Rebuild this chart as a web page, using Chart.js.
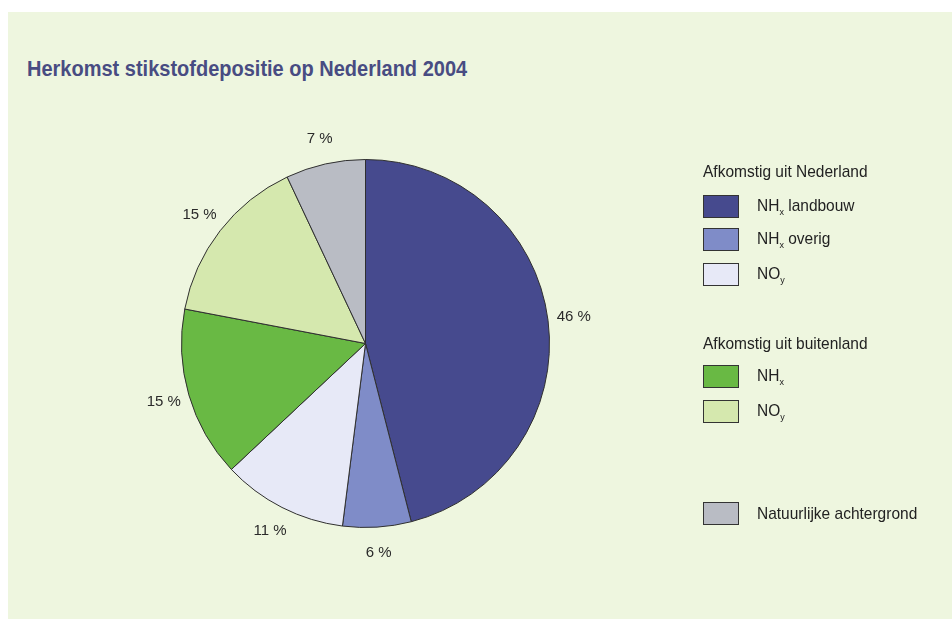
<!DOCTYPE html>
<html lang="nl">
<head>
<meta charset="utf-8">
<title>Herkomst stikstofdepositie op Nederland 2004</title>
<script src="https://cdn.jsdelivr.net/npm/chart.js@4.4.1/dist/chart.umd.min.js"></script>
<style>
    html, body { margin: 0; padding: 0; background: #ffffff; }
    body { width: 952px; height: 619px; position: relative; overflow: hidden; font-family: "Liberation Sans", Arial, sans-serif; }
    #panel { position: absolute; left: 8px; top: 12px; width: 944px; height: 607px; background: #eef6df; }
    #pie-wrap { position: absolute; left: 0; top: 0; width: 944px; height: 607px; }
    #title { position: absolute; left: 19px; top: 44px; font-size: 20px; font-weight: bold; color: #484c82; white-space: nowrap; transform: scaleY(1.1); transform-origin: left top; }
    .legend-head { position: absolute; left: 695px; font-size: 15.5px; color: #222; white-space: nowrap; line-height: 18px; transform: scaleY(1.08); }
    .legend-row { position: absolute; left: 695px; height: 23px; display: flex; align-items: center; white-space: nowrap; }
    .swatch { width: 34px; height: 21px; border: 1px solid #333; box-sizing: content-box; }
    .legend-text { margin-left: 18px; font-size: 15.5px; color: #222; display: inline-block; transform: scaleY(1.08); }
    .legend-text sub { font-size: 9px; vertical-align: -3px; }
</style>
</head>
<body>
<div id="panel">
    <div id="title">Herkomst stikstofdepositie op Nederland 2004</div>
    <div id="pie-wrap"><canvas id="pie"></canvas></div>
    <div id="legend"></div>
</div>
<script>
// Aandeel per bron (procenten), met de klok mee vanaf boven
const categories = ['NH<sub>x</sub> landbouw', 'NH<sub>x</sub> overig', 'NO<sub>y</sub>', 'NH<sub>x</sub>', 'NO<sub>y</sub>', 'Natuurlijke achtergrond'];
const shares = [46, 6, 11, 15, 15, 7];
const sliceColors = ['#464a8e', '#7f8cc8', '#e7e9f7', '#69b944', '#d5e8ae', '#b9bcc4'];
const groups = ['Afkomstig uit Nederland', 'Afkomstig uit Nederland', 'Afkomstig uit Nederland', 'Afkomstig uit buitenland', 'Afkomstig uit buitenland', ''];

// verticale posities (midden) van de legendaregels
const groupHeadY = { 'Afkomstig uit Nederland': 160, 'Afkomstig uit buitenland': 332 };
const rowCenterY = [195, 228, 263, 365, 400, 502];

function buildLegend() {
    const legend = document.getElementById('legend');
    const seen = {};
    categories.forEach((label, i) => {
        const group = groups[i];
        if (group && !seen[group]) {
            seen[group] = true;
            const head = document.createElement('div');
            head.className = 'legend-head';
            head.style.top = (groupHeadY[group] - 9) + 'px';
            head.textContent = group;
            legend.appendChild(head);
        }
        const row = document.createElement('div');
        row.className = 'legend-row';
        row.style.top = (rowCenterY[i] - 12) + 'px';
        const box = document.createElement('div');
        box.className = 'swatch';
        box.style.background = sliceColors[i];
        const text = document.createElement('span');
        text.className = 'legend-text';
        text.innerHTML = label;
        row.appendChild(box);
        row.appendChild(text);
        legend.appendChild(row);
    });
}

// percentages buiten de taartpunten
const outsideLabels = {
    id: 'outsideLabels',
    afterDatasetsDraw(chart) {
        const ctx = chart.ctx;
        const meta = chart.getDatasetMeta(0);
        ctx.save();
        ctx.font = '15px "Liberation Sans", Arial, sans-serif';
        ctx.fillStyle = '#2a2a2a';
        ctx.textAlign = 'center';
        ctx.textBaseline = 'middle';
        meta.data.forEach((arc, i) => {
            const p = arc.getProps(['x', 'y', 'startAngle', 'endAngle', 'outerRadius'], true);
            const mid = (p.startAngle + p.endAngle) / 2;
            const r = p.outerRadius + 26;
            ctx.fillText(shares[i] + ' %', p.x + Math.cos(mid) * r, p.y + Math.sin(mid) * r);
        });
        ctx.restore();
    }
};

buildLegend();

new Chart(document.getElementById('pie'), {
    type: 'pie',
    data: {
        labels: categories,
        datasets: [{
            data: shares,
            backgroundColor: sliceColors,
            borderColor: '#2f2f2f',
            borderWidth: 1
        }]
    },
    options: {
        responsive: true,
        maintainAspectRatio: false,
        animation: false,
        events: [],
        layout: {
            padding: { left: 173, right: 402, top: 147, bottom: 91 }
        },
        plugins: {
            legend: { display: false },
            tooltip: { enabled: false }
        }
    },
    plugins: [outsideLabels]
});
</script>
</body>
</html>
